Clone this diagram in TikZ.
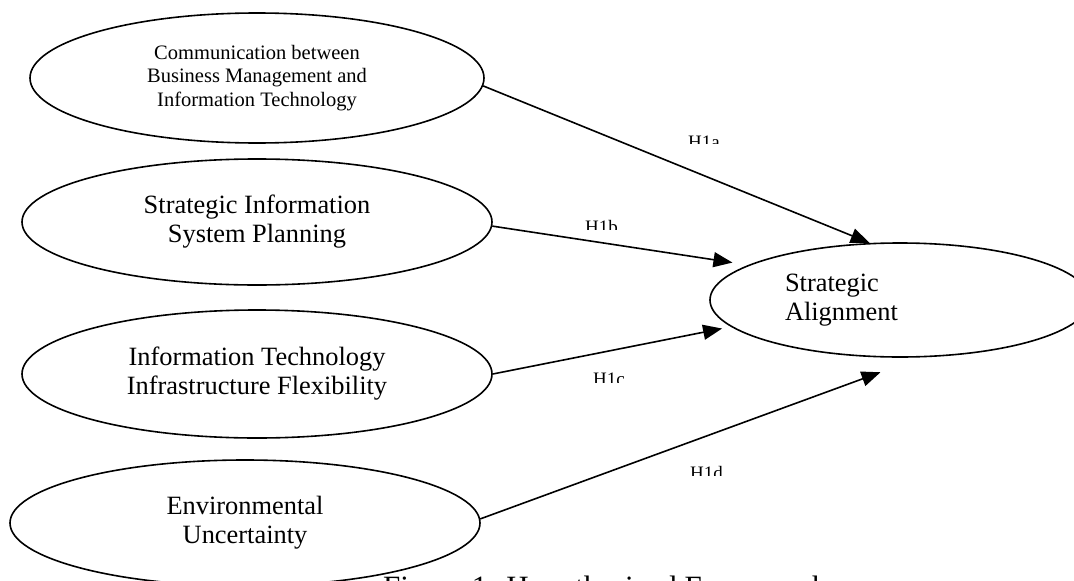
\documentclass[tikz,border=0pt]{standalone}
\usepackage{fontspec}
\setmainfont{Liberation Serif}
\usetikzlibrary{shapes.geometric,arrows.meta}
\begin{document}
\begin{tikzpicture}[x=1pt,y=-1pt]\tikzstyle{every node}+=[inner sep=0pt]
\tikzstyle{construct}=[draw,ellipse,line width=1.6pt,align=center,font=\fontsize{26.4}{29}\selectfont]
\tikzstyle{link}=[line width=1.6pt,-{Triangle[length=19pt,width=15pt]}]
\tikzstyle{hyp}=[anchor=base west,font=\fontsize{19}{22}\selectfont]
	  \useasboundingbox (0,0) rectangle (1074,581);
	  \clip (0,0) rectangle (1074,581);
	  \node [construct,minimum width=454,minimum height=130,font=\fontsize{20.5}{23.5}\selectfont] (comm) at (257,78) {Communication between\\Business Management and\\Information Technology};
	  \node [construct,minimum width=470,minimum height=126] (sisp) at (257,222) {Strategic Information\\System Planning};
	  \node [construct,minimum width=470,minimum height=128] (itif) at (257,374) {Information Technology\\Infrastructure Flexibility};
	  \node [construct,minimum width=470,minimum height=126] (envu) at (245,523) {Environmental\\Uncertainty};
	  \node [construct,minimum width=380,minimum height=114,text width=230,align=left] (align) at (900,300) {Strategic\\Alignment};
	  \draw [link] (comm.-2) -- (align.118);
	  \draw [link,shorten >=16] (sisp.-1) -- (align.167);
	  \draw [link,shorten >=9] (itif.0) -- (align.189);
	  \draw [link,shorten >=43] (envu.1) -- (align.290);
	  % hypothesis labels, cut off at the bottom
	  \begin{scope}
	    \clip (680,120) rectangle (735,143);
	    \node [hyp] (h1a) at (688,148.6) {H1a};
	  \end{scope}
	  \begin{scope}
	    \clip (575,205) rectangle (630,229);
	    \node [hyp] (h1b) at (585,233.6) {H1b};
	  \end{scope}
	  \begin{scope}
	    \clip (585,360) rectangle (640,382);
	    \node [hyp] (h1c) at (593,385.6) {H1c};
	  \end{scope}
	  \begin{scope}
	    \clip (680,450) rectangle (735,475);
	    \node [hyp] (h1d) at (690,479.6) {H1d};
	  \end{scope}
	  \node [anchor=base west,font=\fontsize{31}{36}\selectfont] (caption) at (383,597) {Figure 1: Hypothesized Framework};
\end{tikzpicture}
\end{document}
